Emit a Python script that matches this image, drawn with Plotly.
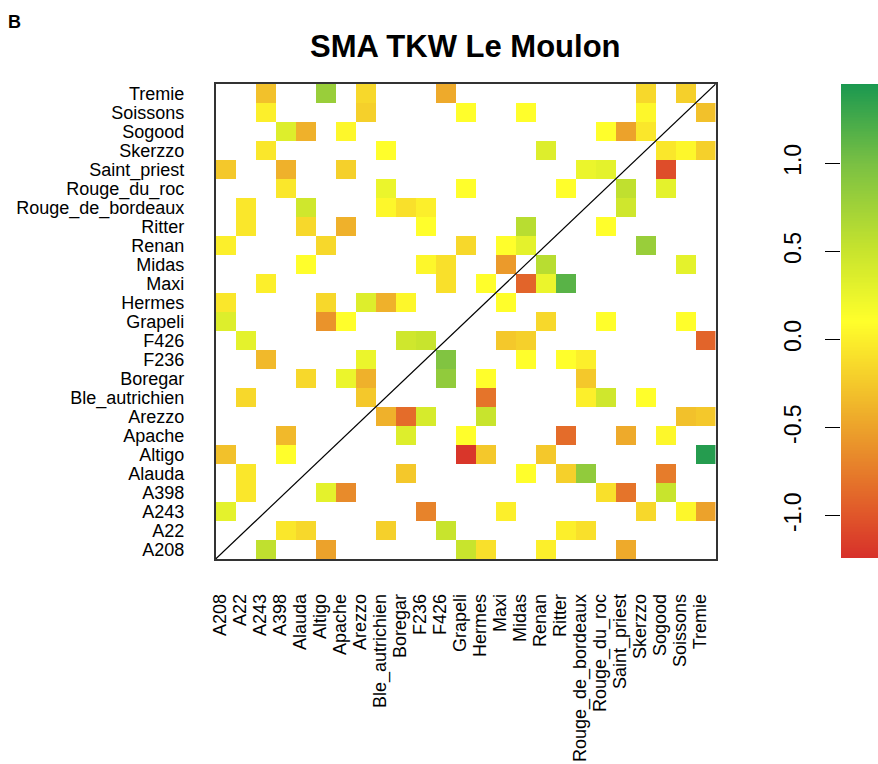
import numpy as np
import plotly.graph_objects as go

# Variety names (x axis left->right, y axis bottom->top)
varieties = ["A208", "A22", "A243", "A398", "Alauda", "Altigo", "Apache", "Arezzo",
             "Ble_autrichien", "Boregar", "F236", "F426", "Grapeli", "Hermes", "Maxi",
             "Midas", "Renan", "Ritter", "Rouge_de_bordeaux", "Rouge_du_roc",
             "Saint_priest", "Skerzzo", "Sogood", "Soissons", "Tremie"]

# Non-empty cells: row variety, column variety, value
cell_rows = (
    ["Tremie"] * 6 + ["Soissons"] * 6 + ["Sogood"] * 6 + ["Skerzzo"] * 6 +
    ["Saint_priest"] * 6 + ["Rouge_du_roc"] * 6 + ["Rouge_de_bordeaux"] * 6 +
    ["Ritter"] * 6 + ["Renan"] * 6 + ["Midas"] * 6 + ["Maxi"] * 6 + ["Hermes"] * 6 +
    ["Grapeli"] * 6 + ["F426"] * 6 + ["F236"] * 6 + ["Boregar"] * 6 +
    ["Ble_autrichien"] * 6 + ["Arezzo"] * 6 + ["Apache"] * 6 + ["Altigo"] * 6 +
    ["Alauda"] * 6 + ["A398"] * 6 + ["A243"] * 6 + ["A22"] * 6 + ["A208"] * 6
)
cell_cols = [
    "A243", "Altigo", "Arezzo", "F426", "Skerzzo", "Soissons",
    "A243", "Arezzo", "Grapeli", "Midas", "Skerzzo", "Tremie",
    "A398", "Alauda", "Apache", "Rouge_du_roc", "Saint_priest", "Skerzzo",
    "A243", "Ble_autrichien", "Renan", "Sogood", "Soissons", "Tremie",
    "A208", "A398", "Apache", "Rouge_de_bordeaux", "Rouge_du_roc", "Sogood",
    "A398", "Ble_autrichien", "Grapeli", "Ritter", "Saint_priest", "Sogood",
    "A22", "Alauda", "Ble_autrichien", "Boregar", "F236", "Saint_priest",
    "A22", "Alauda", "Apache", "F236", "Midas", "Rouge_du_roc",
    "A208", "Altigo", "Grapeli", "Maxi", "Midas", "Skerzzo",
    "Alauda", "F236", "F426", "Maxi", "Renan", "Soissons",
    "A243", "F426", "Hermes", "Midas", "Renan", "Ritter",
    "A208", "Altigo", "Arezzo", "Ble_autrichien", "Boregar", "Maxi",
    "A208", "Altigo", "Apache", "Renan", "Rouge_du_roc", "Soissons",
    "A22", "Boregar", "F236", "Maxi", "Midas", "Tremie",
    "A243", "Arezzo", "F426", "Midas", "Ritter", "Rouge_de_bordeaux",
    "Alauda", "Apache", "Arezzo", "F426", "Hermes", "Rouge_de_bordeaux",
    "A22", "Arezzo", "Hermes", "Rouge_de_bordeaux", "Rouge_du_roc", "Skerzzo",
    "Ble_autrichien", "Boregar", "F236", "Hermes", "Soissons", "Tremie",
    "A398", "Boregar", "Grapeli", "Ritter", "Saint_priest", "Sogood",
    "A208", "A398", "Grapeli", "Hermes", "Renan", "Tremie",
    "A22", "Boregar", "Midas", "Ritter", "Rouge_de_bordeaux", "Sogood",
    "A22", "Altigo", "Apache", "Rouge_du_roc", "Saint_priest", "Sogood",
    "A208", "F236", "Maxi", "Skerzzo", "Soissons", "Tremie",
    "A398", "Alauda", "Ble_autrichien", "F426", "Ritter", "Rouge_de_bordeaux",
    "A243", "Altigo", "Grapeli", "Hermes", "Renan", "Saint_priest",
]
cell_values = [
    -0.30, 0.80, -0.15, -0.45, -0.15, -0.20,
    0.00, -0.20, 0.10, 0.10, 0.05, -0.30,
    0.35, -0.40, 0.05, 0.10, -0.50, -0.05,
    -0.05, 0.10, 0.35, -0.05, 0.05, -0.20,
    -0.25, -0.40, -0.20, 0.25, 0.30, -1.05,
    -0.05, 0.25, 0.10, 0.10, 0.55, 0.30,
    -0.05, 0.45, 0.05, -0.10, 0.00, 0.45,
    -0.05, -0.15, -0.40, 0.10, 0.60, 0.10,
    0.00, -0.15, -0.15, 0.10, 0.30, 0.80,
    0.10, 0.05, -0.10, -0.55, 0.60, 0.30,
    0.00, -0.10, 0.10, -0.90, 0.25, 1.15,
    -0.05, -0.15, 0.35, -0.40, 0.05, 0.10,
    0.35, -0.60, 0.10, -0.15, 0.10, 0.10,
    0.30, 0.45, 0.50, -0.25, -0.20, -0.90,
    -0.35, 0.25, 0.95, 0.10, 0.10, 0.00,
    -0.15, 0.25, -0.40, 0.85, 0.10, -0.25,
    -0.15, -0.25, -0.80, 0.00, 0.45, 0.10,
    -0.40, -0.85, 0.40, 0.50, -0.30, -0.25,
    -0.35, 0.35, 0.10, -0.85, -0.45, 0.05,
    -0.30, 0.10, -1.20, -0.25, -0.25, 1.40,
    -0.05, -0.25, 0.10, -0.20, 0.85, -0.75,
    -0.05, 0.30, -0.65, -0.10, -0.80, 0.50,
    0.30, -0.70, 0.00, -0.15, 0.05, -0.50,
    -0.05, -0.15, -0.20, 0.50, 0.00, -0.10,
    0.55, -0.50, 0.50, -0.10, 0.00, -0.45,
]

zmin, zmax = -1.24, 1.45
colorscale = [[0.0, "#d7302a"], [0.089, "#e0552a"], [0.275, "#eca22b"],
              [0.5, "#ffff2b"], [0.647, "#c8e42d"], [0.833, "#79c043"],
              [1.0, "#1a9850"]]

n = len(varieties)
z = [[None] * n for _ in range(n)]
for r, c, v in zip(cell_rows, cell_cols, cell_values):
    z[varieties.index(r)][varieties.index(c)] = v

W, H = 878, 764
px_l, px_r, px_t, px_b = 215.67, 715.67, 84, 559
font = "Liberation Sans, Arial, sans-serif"

fig = go.Figure()
fig.add_trace(go.Heatmap(
    z=z, x=list(range(n)), y=list(range(n)),
    zmin=zmin, zmax=zmax, colorscale=colorscale, showscale=False,
    hoverongaps=False, xaxis="x", yaxis="y"))

# Colour key drawn as its own heatmap strip
key_vals = np.linspace(zmin, zmax, 300)
fig.add_trace(go.Heatmap(
    z=[[v] for v in key_vals], x=[0], y=key_vals,
    zmin=zmin, zmax=zmax, colorscale=colorscale, showscale=False,
    xaxis="x3", yaxis="y3", hoverinfo="skip"))

fig.add_shape(type="line", x0=-0.5, y0=-0.5, x1=n - 0.5, y1=n - 0.5,
              xref="x", yref="y", line=dict(color="black", width=1.2), layer="above")

fig.update_layout(
    width=W, height=H, margin=dict(l=0, r=0, t=0, b=0),
    plot_bgcolor="white", paper_bgcolor="white",
    font=dict(family=font, color="black"),
    xaxis=dict(domain=[px_l / W, px_r / W], range=[-0.5, n - 0.5],
               tickvals=[i - 0.3 for i in range(n)], ticktext=varieties,
               tickangle=-90, tickfont=dict(size=18), ticks="",
               ticklabelstandoff=26, showgrid=False, zeroline=False,
               showline=True, mirror=True, linecolor="#333", linewidth=1.5,
               automargin=False),
    yaxis=dict(domain=[1 - px_b / H, 1 - px_t / H], range=[-0.5, n - 0.5],
               tickvals=list(range(n)), ticktext=varieties,
               tickfont=dict(size=18), ticks="", ticklabelstandoff=26,
               showgrid=False, zeroline=False, anchor="x",
               showline=True, mirror=True, linecolor="#333", linewidth=1.5,
               automargin=False),
    xaxis3=dict(domain=[841 / W, 1.0], range=[-0.5, 0.5], visible=False,
                anchor="y3"),
    yaxis3=dict(domain=[1 - 558 / H, 1 - px_t / H], range=[zmin, zmax],
                anchor="x3", side="left", tickvals=[-1.0, -0.5, 0.0, 0.5, 1.0],
                ticktext=["-1.0", "-0.5", "0.0", "0.5", "1.0"],
                tickangle=-90, tickfont=dict(size=23), ticks="outside",
                ticklen=15, tickwidth=1, tickcolor="black",
                ticklabelstandoff=15, showgrid=False, zeroline=False,
                showline=False, automargin=False),
    annotations=[
        dict(text="<b>SMA TKW Le Moulon</b>", x=465.67 / W, y=1 - 46.5 / H,
             xref="paper", yref="paper", xanchor="center", yanchor="middle",
             showarrow=False, font=dict(size=31, family=font)),
        dict(text="<b>B</b>", x=6 / W, y=1 - 21.5 / H, xref="paper", yref="paper",
             xanchor="left", yanchor="middle", showarrow=False,
             font=dict(size=18, family=font)),
    ],
)

fig.write_html("out.html", config={"displayModeBar": False},
               post_script="document.body.style.margin='0';document.body.style.overflow='hidden';")
